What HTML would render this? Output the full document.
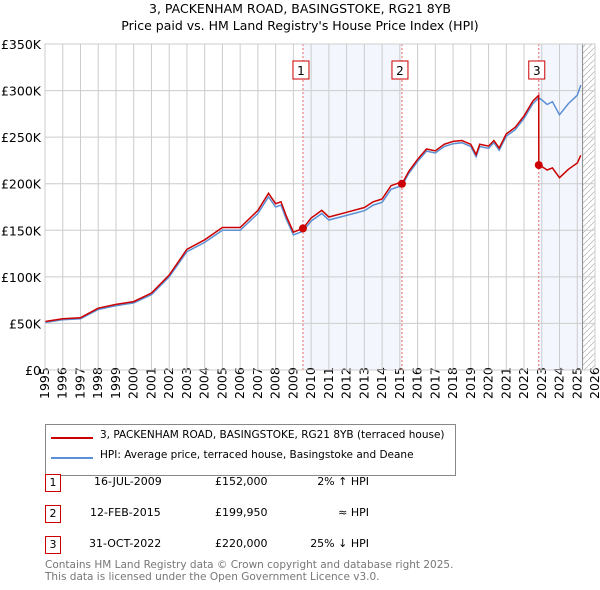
<!DOCTYPE html>
<html><head><meta charset="utf-8"><style>
body{margin:0;background:#fff;font-family:"DejaVu Sans","Liberation Sans",sans-serif;}
#wrap{position:relative;width:600px;height:590px;overflow:hidden;}
.t{position:absolute;font-size:11px;color:#000;white-space:nowrap;}
.box{position:absolute;border:1px solid #c00;width:14px;height:16px;font-size:11px;text-align:center;line-height:16px;background:#fff;}
</style></head><body>
<div id="wrap">
<div class="t" style="left:0;width:600px;text-align:center;top:1px;font-size:12.5px">3, PACKENHAM ROAD, BASINGSTOKE, RG21 8YB</div>
<div class="t" style="left:0;width:600px;text-align:center;top:18px;font-size:12.5px">Price paid vs. HM Land Registry's House Price Index (HPI)</div>
<svg id="chart" width="600" height="420" style="position:absolute;left:0;top:0"></svg>
<div style="position:absolute;left:45px;top:424px;width:409px;height:50px;border:1px solid #888;">
 <div style="position:absolute;left:5px;top:12px;width:42px;height:2px;background:#c00"></div>
 <div class="t" style="left:54px;top:4px;font-size:10.5px">3, PACKENHAM ROAD, BASINGSTOKE, RG21 8YB (terraced house)</div>
 <div style="position:absolute;left:5px;top:32px;width:42px;height:2px;background:#5b8fd4"></div>
 <div class="t" style="left:54px;top:24px;font-size:10.5px">HPI: Average price, terraced house, Basingstoke and Deane</div>
</div>
<div class="box" style="left:45px;top:474px">1</div>
<div class="t" style="left:94px;top:475px">16-JUL-2009</div>
<div class="t" style="left:215px;top:475px">£152,000</div>
<div class="t" style="left:300px;width:69px;text-align:right;top:475px">2% ↑ HPI</div>
<div class="box" style="left:45px;top:505px">2</div>
<div class="t" style="left:90px;top:506px">12-FEB-2015</div>
<div class="t" style="left:215px;top:506px">£199,950</div>
<div class="t" style="left:300px;width:69px;text-align:right;top:506px">≈ HPI</div>
<div class="box" style="left:45px;top:536px">3</div>
<div class="t" style="left:89px;top:537px">31-OCT-2022</div>
<div class="t" style="left:215px;top:537px">£220,000</div>
<div class="t" style="left:300px;width:69px;text-align:right;top:537px">25% ↓ HPI</div>
<div class="t" style="left:45px;top:560px;color:#777;font-size:10.5px;line-height:11.5px">Contains HM Land Registry data © Crown copyright and database right 2025.<br>This data is licensed under the Open Government Licence v3.0.</div>
</div>
<script>
const hpiYears=[1995,1996,1997,1998,1999,2000,2001,2002,2003,2004,2005,2006,2007,2007.6,2008,2008.3,2008.6,2009,2009.54,2010,2010.6,2011,2012,2013,2013.5,2014,2014.5,2015.12,2015.5,2016,2016.5,2017,2017.5,2018,2018.5,2019,2019.3,2019.5,2020,2020.3,2020.6,2021,2021.5,2022,2022.5,2022.83,2023,2023.3,2023.6,2024,2024.5,2025,2025.2];
const hpiValues=[51,54,55,65,69,72,81,100,127,137,150,150,168,186,175,177,162,145,149,160,168,161,166,171,177,180,194,198,211,224,235,233,240,243,244,240,229,240,238,244,236,251,258,270,286,292,290,285,288,274,286,295,306];
const saleYears=[2009.54,2015.12,2022.83];
const salePrices=[152000,199950,220000];
const yTicks=[0,50000,100000,150000,200000,250000,300000,350000];
const yTickLabels=["£0","£50K","£100K","£150K","£200K","£250K","£300K","£350K"];
const xTicks=[];for(let y=1995;y<=2026;y++)xTicks.push(y);
const NS="http://www.w3.org/2000/svg";
const svg=document.getElementById('chart');
const X0=45,X1=595,Y0=370,Y1=44;
const xs=y=>X0+(y-1995)/(2026-1995)*(X1-X0);
const ys=v=>Y0-v/350000*(Y0-Y1);
function mk(tag,attrs){const e=document.createElementNS(NS,tag);for(const k in attrs)e.setAttribute(k,attrs[k]);svg.appendChild(e);return e;}
function hpiAt(t){for(let i=0;i<hpiYears.length-1;i++){if(t<=hpiYears[i+1]){const f=(t-hpiYears[i])/(hpiYears[i+1]-hpiYears[i]);return (hpiValues[i]+f*(hpiValues[i+1]-hpiValues[i]))*1000;}}return hpiValues[hpiValues.length-1]*1000;}
let s=mk('rect',{x:xs(saleYears[0]),y:Y1,width:xs(saleYears[1])-xs(saleYears[0]),height:Y0-Y1,fill:'#eef3fc',opacity:0.7});

s=mk('rect',{x:xs(saleYears[2]),y:Y1,width:xs(2025.3)-xs(saleYears[2]),height:Y0-Y1,fill:'#eef3fc',opacity:0.7});

const defs=mk('defs',{});const pat=document.createElementNS(NS,'pattern');
pat.setAttribute('id','hatch');pat.setAttribute('width','6');pat.setAttribute('height','6');pat.setAttribute('patternUnits','userSpaceOnUse');
const pl=document.createElementNS(NS,'path');pl.setAttribute('d','M0,6 L6,0');pl.setAttribute('stroke','#bbb');pl.setAttribute('stroke-width','0.8');pat.appendChild(pl);defs.appendChild(pat);
s=mk('rect',{x:xs(2025.3),y:Y1,width:X1-xs(2025.3),height:Y0-Y1,fill:'url(#hatch)'});

xTicks.forEach((y,i)=>{let l=mk('line',{x1:xs(y),x2:xs(y),y1:Y1,y2:Y0,stroke:'#ccc','stroke-width':1});

let t=mk('text',{x:0,y:0,transform:`translate(${xs(y)+4},${Y0+29}) rotate(-90)`,'font-size':12.5,'font-family':'DejaVu Sans,sans-serif','text-anchor':'start'});t.textContent=y;
});
yTicks.forEach((v,i)=>{let l=mk('line',{x1:X0,x2:X1,y1:ys(v),y2:ys(v),stroke:'#ccc','stroke-width':1});

let t=mk('text',{x:X0-4,y:ys(v)+5,'font-size':12.5,'font-family':'DejaVu Sans,sans-serif','text-anchor':'end'});t.textContent=yTickLabels[i];
});
let nl=mk('line',{x1:xs(2025.3),x2:xs(2025.3),y1:Y1,y2:Y0,stroke:'#888','stroke-width':1});

saleYears.forEach((y,i)=>{let l=mk('line',{x1:xs(y),x2:xs(y),y1:Y1,y2:Y0,stroke:'#e66','stroke-width':1,'stroke-dasharray':'2,2'});
});
let d=hpiYears.map((y,i)=>(i?'L':'M')+xs(y).toFixed(1)+','+ys(hpiValues[i]*1000).toFixed(1)).join(' ');
let p=mk('path',{d:d,fill:'none',stroke:'#5b8fd4','stroke-width':1.5});

function seg(t){let k=0;for(let i=0;i<saleYears.length;i++)if(t>=saleYears[i])k=i;return k;}
const pts=[];const ts=hpiYears.slice();saleYears.forEach(y=>{ts.push(y-0.001);ts.push(y);});ts.sort((a,b)=>a-b);
ts.forEach(t=>{const k=seg(t);pts.push([t,salePrices[k]*hpiAt(t)/hpiAt(saleYears[k])]);});
d=pts.map((q,i)=>(i?'L':'M')+xs(q[0]).toFixed(1)+','+ys(q[1]).toFixed(1)).join(' ');
p=mk('path',{d:d,fill:'none',stroke:'#c00','stroke-width':1.5});

saleYears.forEach((y,i)=>{let c=mk('circle',{cx:xs(y),cy:ys(salePrices[i]),r:4,fill:'#c00'});

let r=mk('rect',{x:xs(y)-10,y:61,width:16,height:18,fill:'#fff',stroke:'#c00'});

let t=mk('text',{x:xs(y)-2,y:75,'font-size':12,'font-family':'DejaVu Sans,sans-serif','text-anchor':'middle'});t.textContent=i+1;
});
let b=mk('rect',{x:X0,y:Y1,width:X1-X0,height:Y0-Y1,fill:'none',stroke:'#ccc'});

</script>
</body></html>
